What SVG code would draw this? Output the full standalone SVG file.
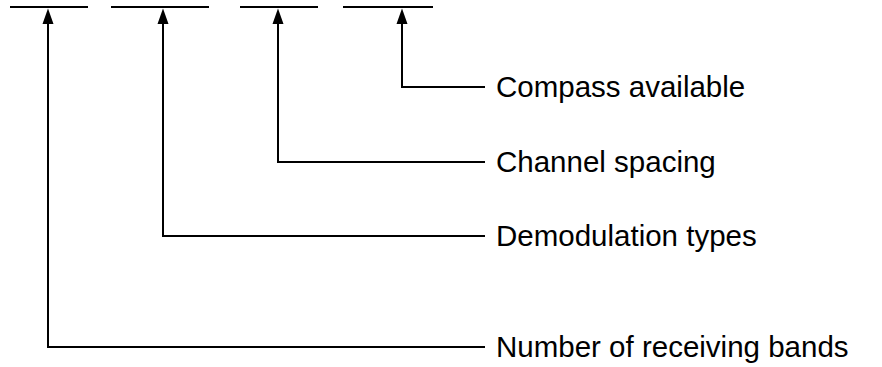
<svg xmlns="http://www.w3.org/2000/svg" width="882" height="367" viewBox="0 0 882 367">
<style>
.ln{stroke:#000;stroke-width:2;fill:none}
.ah{fill:#000}
.lb{font-family:"Liberation Sans",Arial,sans-serif;font-size:29.5px;fill:#000}
</style>
<rect width="882" height="367" fill="#fff"/>
<g id="fields">
<line class="ln" x1="10" y1="7" x2="88" y2="7"/>
<line class="ln" x1="111" y1="7" x2="209" y2="7"/>
<line class="ln" x1="240" y1="7" x2="318" y2="7"/>
<line class="ln" x1="343" y1="7" x2="433" y2="7"/>
</g>
<g id="connectors">
<polyline class="ln" points="48,22 48,347 485,347"/>
<polyline class="ln" points="163,22 163,236 485,236"/>
<polyline class="ln" points="278,22 278,162 485,162"/>
<polyline class="ln" points="402,22 402,87 485,87"/>
<polygon class="ah" points="48,8.5 53.5,24 42.5,24"/>
<polygon class="ah" points="163,8.5 168.5,24 157.5,24"/>
<polygon class="ah" points="278,8.5 283.5,24 272.5,24"/>
<polygon class="ah" points="402,8.5 407.5,24 396.5,24"/>
</g>
<g id="compass"><text class="lb" x="496" y="97">Compass available</text></g>
<g id="channel"><text class="lb" x="496" y="172">Channel spacing</text></g>
<g id="demod"><text class="lb" x="496" y="246">Demodulation types</text></g>
<g id="bands"><text class="lb" x="496" y="357">Number of receiving bands</text></g>
</svg>
